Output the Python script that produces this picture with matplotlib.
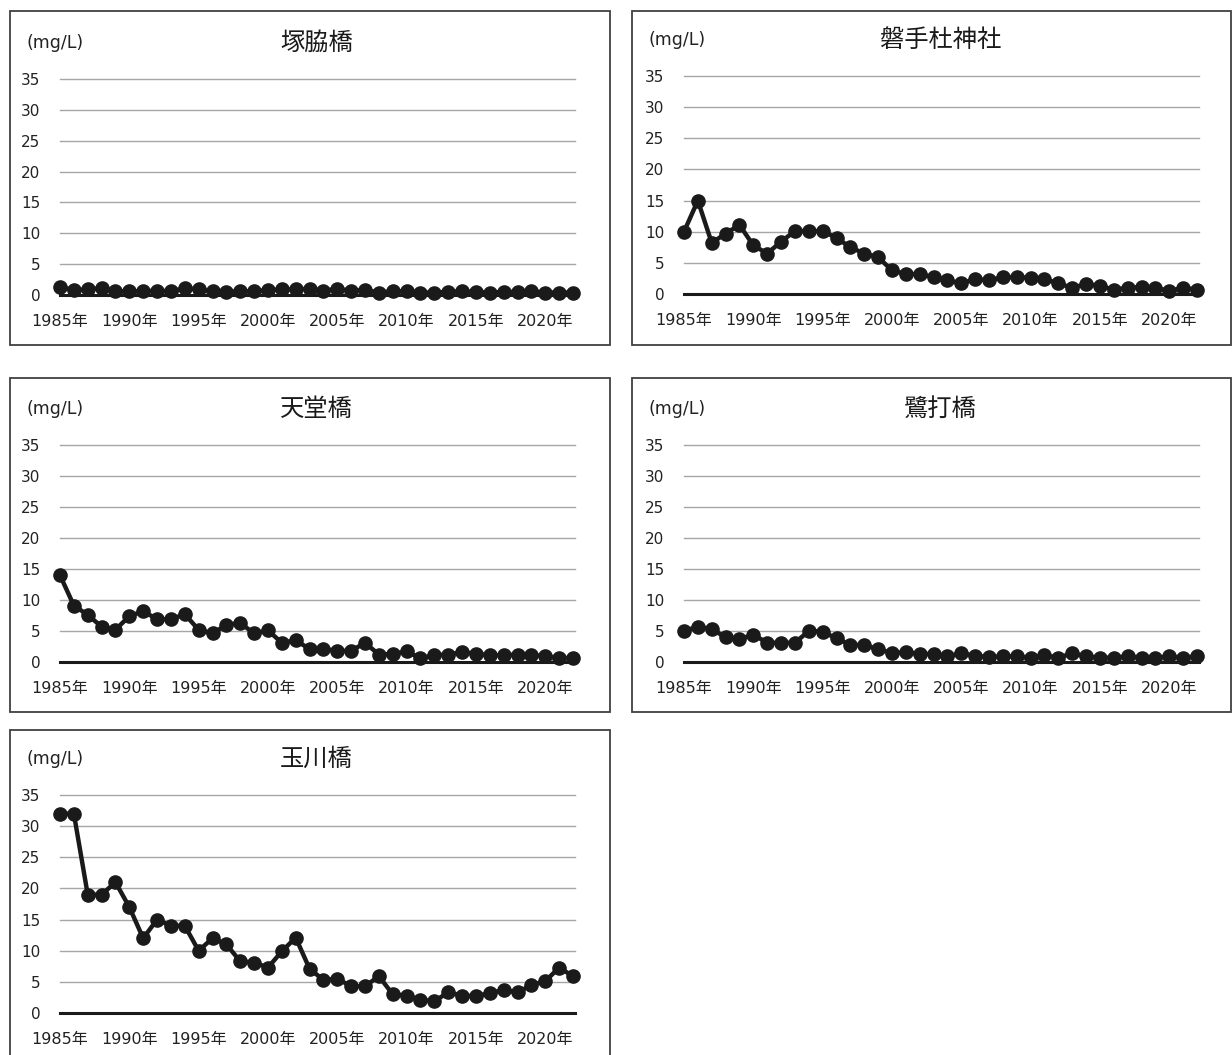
import numpy as np
import matplotlib
matplotlib.use('Agg')
from matplotlib import pyplot as plt
from matplotlib.patches import Rectangle

plt.rcParams['font.family'] = ['DejaVu Sans', 'Noto Sans CJK JP']

years = list(range(1985, 2023))
year_ticks = list(range(1985, 2021, 5))
year_labels = [f'{y}年' for y in year_ticks]
y_ticks = [0, 5, 10, 15, 20, 25, 30, 35]

tsukawaki = [1.3, 0.8, 0.9, 1.1, 0.6, 0.6, 0.6, 0.7, 0.6, 1.1,
             0.9, 0.6, 0.5, 0.6, 0.6, 0.8, 0.9, 0.9, 1.0, 0.7,
             1.0, 0.7, 0.8, 0.4, 0.6, 0.6, 0.4, 0.4, 0.5, 0.6,
             0.5, 0.4, 0.5, 0.5, 0.6, 0.4, 0.4, 0.4]
iwatemori = [10.0, 15.0, 8.2, 9.7, 11.1, 7.8, 6.5, 8.4, 10.1, 10.1,
             10.1, 9.0, 7.5, 6.5, 5.9, 3.8, 3.2, 3.2, 2.7, 2.2,
             1.7, 2.4, 2.2, 2.7, 2.7, 2.6, 2.4, 1.7, 1.0, 1.6,
             1.3, 0.7, 1.0, 1.1, 1.0, 0.5, 1.0, 0.7]
tendo = [14.0, 9.1, 7.6, 5.7, 5.2, 7.4, 8.2, 6.9, 6.9, 7.7,
         5.2, 4.6, 6.0, 6.3, 4.6, 5.1, 3.1, 3.5, 2.1, 2.1,
         1.8, 1.8, 3.1, 1.2, 1.3, 1.7, 0.6, 1.1, 1.2, 1.6,
         1.3, 1.1, 1.1, 1.2, 1.1, 1.0, 0.6, 0.7]
sagiuchi = [5.0, 5.7, 5.3, 4.0, 3.7, 4.4, 3.1, 3.1, 3.1, 5.0,
            4.9, 3.8, 2.8, 2.7, 2.1, 1.4, 1.6, 1.3, 1.3, 0.9,
            1.4, 1.0, 0.8, 0.9, 0.9, 0.7, 1.1, 0.7, 1.4, 0.9,
            0.7, 0.7, 0.9, 0.7, 0.7, 0.9, 0.7, 0.9]
tamagawa = [32.0, 32.0, 19.0, 19.0, 21.0, 17.0, 12.0, 15.0, 14.0, 14.0,
            10.0, 12.0, 11.0, 8.3, 8.1, 7.3, 9.9, 12.1, 7.1, 5.3,
            5.5, 4.3, 4.3, 5.9, 3.0, 2.8, 2.1, 1.9, 3.3, 2.8,
            2.7, 3.2, 3.7, 3.3, 4.5, 5.1, 7.3, 5.9]

W, H = 1232, 1055
fig = plt.figure(figsize=(W / 100, H / 100), dpi=100)

# (box x0, y0, x1, y1), (plot x0, y35, x1, y0), title, values
panels = [
    ((10, 11, 610, 345), (60, 79, 573, 295), '塚脇橋', tsukawaki),
    ((632, 11, 1231, 345), (684, 76, 1197, 294), '磐手杜神社', iwatemori),
    ((10, 378, 610, 712), (60, 445, 573, 662), '天堂橋', tendo),
    ((632, 378, 1231, 712), (684, 445, 1197, 662), '鷺打橋', sagiuchi),
    ((10, 730, 610, 1060), (60, 795, 573, 1013), '玉川橋', tamagawa),
]

for box, area, title, vals in panels:
    bx0, by0, bx1, by1 = box
    fig.patches.append(Rectangle((bx0 / W, 1 - by1 / H), (bx1 - bx0) / W,
                                 (by1 - by0) / H, transform=fig.transFigure,
                                 fill=False, edgecolor='#404040', lw=1.3))
    x0, ytop, x1, ybot = area
    ax = fig.add_axes([x0 / W, 1 - ybot / H, (x1 - x0) / W, (ybot - ytop) / H])
    ax.set_xlim(1985, 2022)
    ax.set_ylim(0, 35)
    for s in ax.spines.values():
        s.set_visible(False)
    for v in y_ticks[1:]:
        ax.axhline(v, color='#a6a6a6', lw=1.0, zorder=1, xmin=0, xmax=1.003,
                   clip_on=False)
    ax.axhline(0, color='#1a1a1a', lw=2.2, zorder=2, xmax=1.003, clip_on=False)
    ax.plot(years, vals, color='#1a1a1a', lw=3.2, marker='o', markersize=9.5,
            zorder=3, clip_on=False)
    ax.set_yticks(y_ticks)
    ax.set_xticks(year_ticks)
    ax.set_xticklabels(year_labels)
    ax.tick_params(axis='y', length=0, pad=14, labelsize=11, colors='#222222')
    ax.tick_params(axis='x', length=0, pad=14, labelsize=11.5, colors='#222222')
    fig.text((x0 + x1) / 2 / W, 1 - (ytop - 36) / H, title, ha='center',
             va='center', fontsize=17.5, color='#1a1a1a',
             family=['Noto Sans CJK JP'])
    fig.text((bx0 + 17) / W, 1 - (ytop - 36) / H, '(mg/L)', ha='left',
             va='center', fontsize=12.5, color='#222222')

fig.savefig('out.png', dpi=100)
